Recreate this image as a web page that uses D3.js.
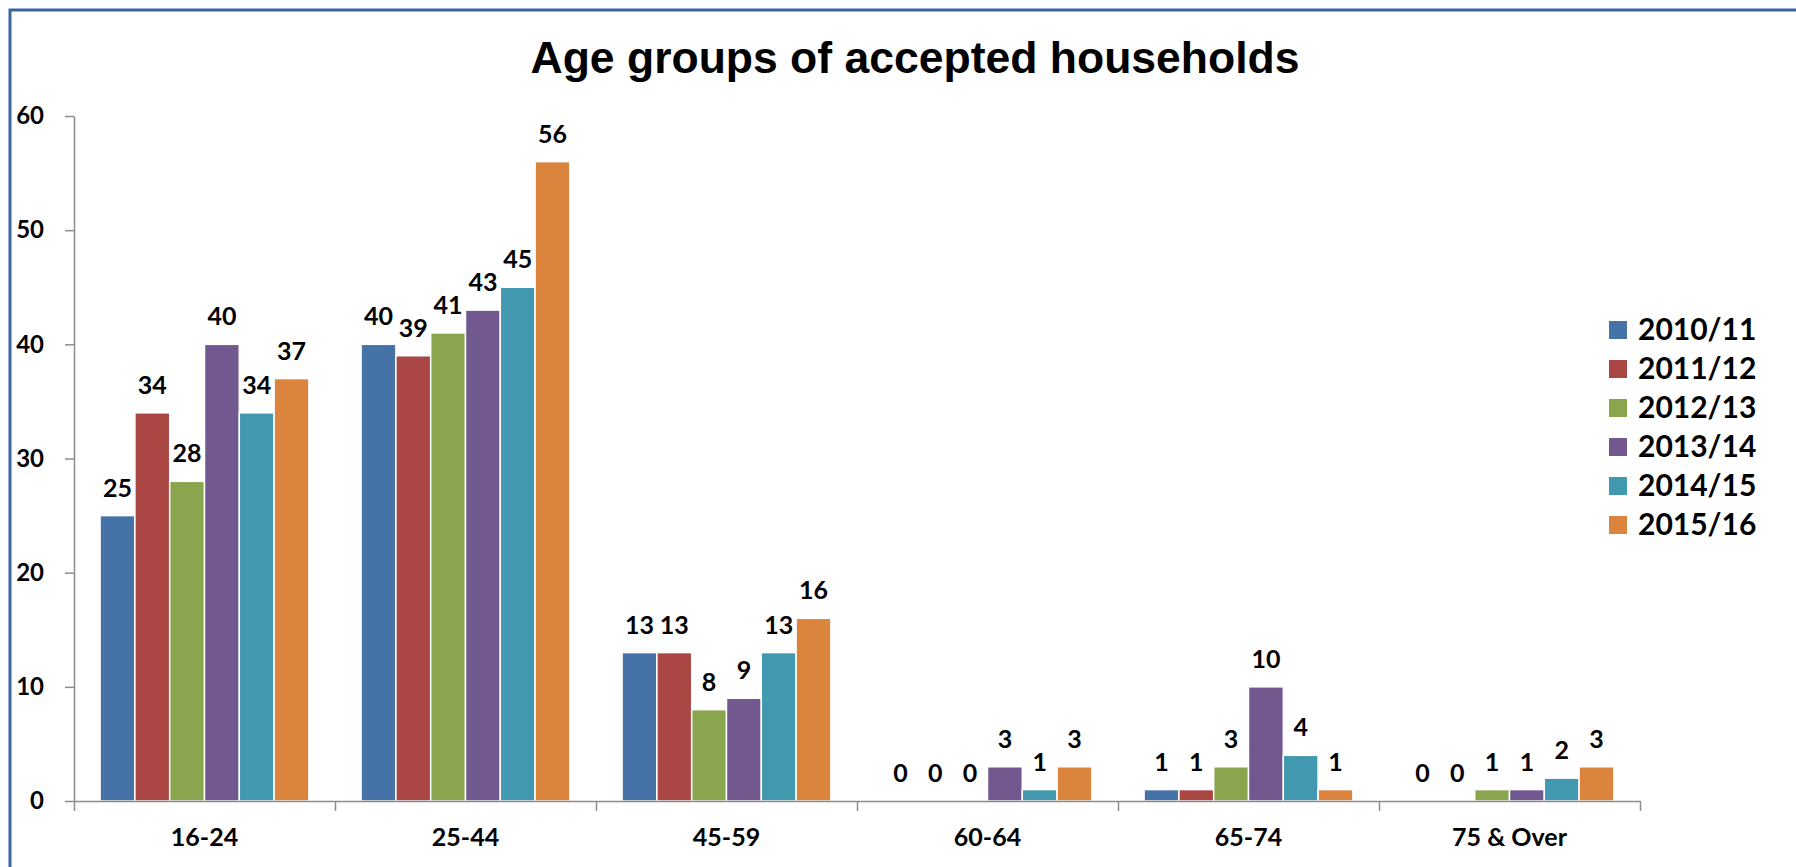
<!DOCTYPE html>
<html>
<head>
<meta charset="utf-8">
<script src="https://cdn.jsdelivr.net/npm/d3@7"></script>
<style>
  html, body { margin: 0; padding: 0; background: #fff; overflow: hidden; }
  .chart-title { font-family: "Liberation Sans", Arial, sans-serif; font-weight: bold; font-size: 44.5px; fill: #000; }
  .lbl { font-family: Lato, "Open Sans", sans-serif; font-weight: bold; fill: #000; }
  .axis path, .axis line { stroke: #8c8c8c; stroke-width: 1.5px; }
</style>
</head>
<body>
<div id="chart"></div>
<script>
// Data
const categories = ["16-24", "25-44", "45-59", "60-64", "65-74", "75 & Over"];
const seriesNames = ["2010/11", "2011/12", "2012/13", "2013/14", "2014/15", "2015/16"];
const s2010 = [25, 40, 13, 0, 1, 0];
const s2011 = [34, 39, 13, 0, 1, 0];
const s2012 = [28, 41, 8, 0, 3, 1];
const s2013 = [40, 43, 9, 3, 10, 1];
const s2014 = [34, 45, 13, 1, 4, 2];
const s2015 = [37, 56, 16, 3, 1, 3];
const yTicks = [0, 10, 20, 30, 40, 50, 60];
const colors = ["#4572A7", "#AA4643", "#89A54E", "#71588F", "#4198AF", "#DB843D"];

const seriesValues = [s2010, s2011, s2012, s2013, s2014, s2015];

// Setup: dimensions
const svgWidth = 1796, svgHeight = 867;
const plot = { left: 74, right: 1640, top: 116, bottom: 801 };

const svg = d3.select("#chart")
  .append("svg")
  .attr("width", svgWidth)
  .attr("height", svgHeight);

// Frame (clipped at right and bottom, like the screenshot)
svg.append("rect")
  .attr("x", 10).attr("y", 10)
  .attr("width", svgWidth + 20).attr("height", svgHeight + 20)
  .attr("fill", "none")
  .attr("stroke", "#3D6699")
  .attr("stroke-width", 3);

// Scales
const x0 = d3.scaleBand()
  .domain(categories)
  .range([plot.left, plot.right])
  .paddingInner(0.2)
  .paddingOuter(0.1);

const x1 = d3.scaleBand()
  .domain(seriesNames)
  .range([0, x0.bandwidth()])
  .padding(0);

const xEdges = d3.scaleLinear()
  .domain([0, categories.length])
  .range([plot.left, plot.right]);

const yScale = d3.scaleLinear()
  .domain([0, 60])
  .range([plot.bottom, plot.top]);

const color = d3.scaleOrdinal(seriesNames, colors);

// Bars
const rows = categories.map((c, i) => ({
  cat: c,
  vals: seriesNames.map((s, j) => ({ key: s, value: seriesValues[j][i] }))
}));

const groups = svg.selectAll(".grp")
  .data(rows)
  .join("g")
  .attr("class", "grp")
  .attr("transform", d => `translate(${x0(d.cat)},0)`);

groups.selectAll("rect")
  .data(d => d.vals.filter(v => v.value > 0))
  .join("rect")
  .attr("x", d => x1(d.key))
  .attr("y", d => yScale(d.value))
  .attr("width", x1.bandwidth())
  .attr("height", d => yScale(0) - yScale(d.value))
  .attr("fill", d => color(d.key))
  .attr("stroke", "#fff")
  .attr("stroke-width", 1.5);

// Data labels
groups.selectAll("text")
  .data(d => d.vals)
  .join("text")
  .attr("class", "lbl")
  .attr("x", d => x1(d.key) + x1.bandwidth() / 2)
  .attr("y", d => yScale(d.value) - 19)
  .attr("text-anchor", "middle")
  .style("font-size", "25px")
  .text(d => d.value);

// Y axis
const yAxis = svg.append("g")
  .attr("class", "axis")
  .attr("transform", `translate(${plot.left},0)`)
  .call(d3.axisLeft(yScale).tickValues(yTicks).tickSize(9).tickSizeOuter(0).tickPadding(21));
yAxis.selectAll("text").attr("class", "lbl").style("font-size", "24px");

// X axis: boundary ticks
svg.append("g")
  .attr("class", "axis")
  .attr("transform", `translate(0,${plot.bottom})`)
  .call(d3.axisBottom(xEdges).ticks(categories.length).tickSize(10).tickSizeOuter(0).tickFormat(""));

// X axis: category labels
const xLab = svg.append("g")
  .attr("class", "axis")
  .attr("transform", `translate(0,${plot.bottom})`)
  .call(d3.axisBottom(x0).tickSize(0).tickPadding(27));
xLab.select(".domain").remove();
xLab.selectAll("text").attr("class", "lbl").style("font-size", "25px");

// Title
svg.append("text")
  .attr("class", "chart-title")
  .attr("x", 915)
  .attr("y", 73)
  .attr("text-anchor", "middle")
  .text("Age groups of accepted households");

// Legend
const legend = svg.append("g")
  .selectAll("g")
  .data(seriesNames)
  .join("g")
  .attr("transform", (d, i) => `translate(1609,${330 + i * 39})`);

legend.append("rect")
  .attr("x", 0).attr("y", -9)
  .attr("width", 18).attr("height", 18)
  .attr("fill", d => color(d));

legend.append("text")
  .attr("class", "lbl")
  .attr("x", 29)
  .attr("y", 10)
  .style("font-size", "30px")
  .text(d => d);
</script>
</body>
</html>
